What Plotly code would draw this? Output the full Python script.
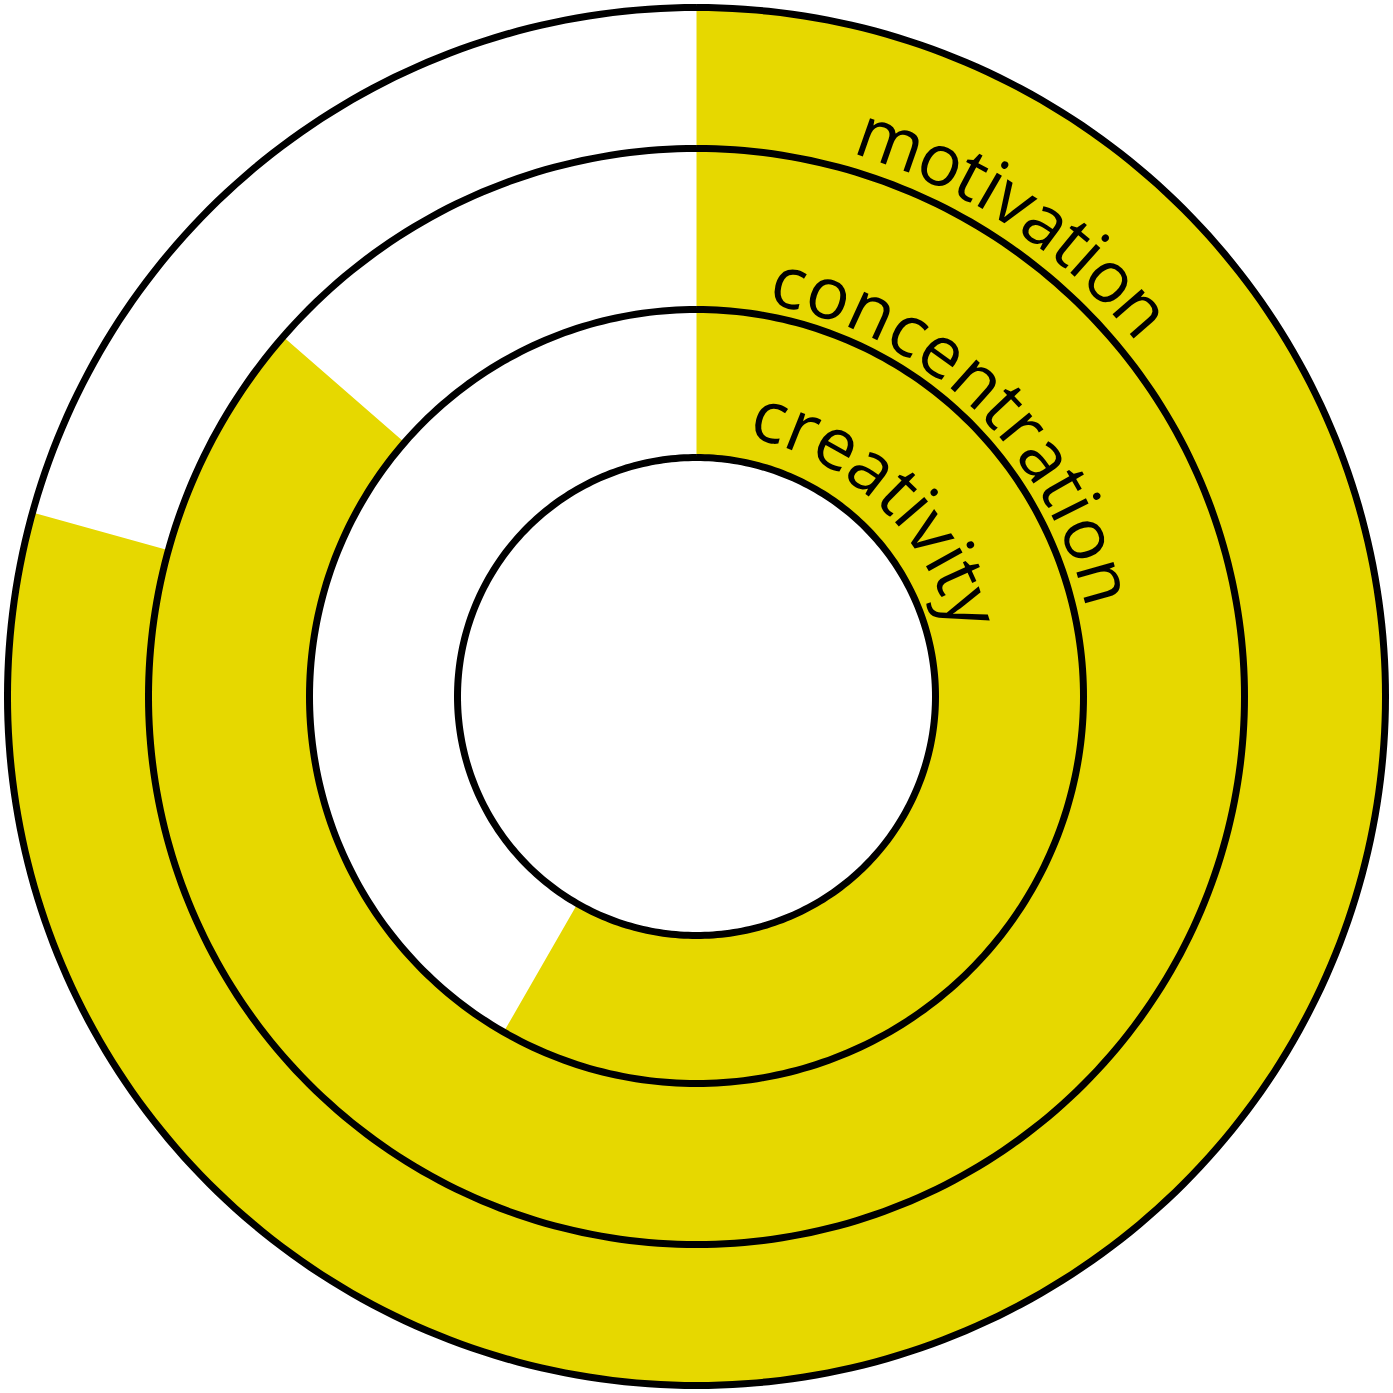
import math
import numpy as np
import plotly.graph_objects as go

# ---- data ----
categories = ["creativity", "concentration", "motivation"]
values = [58.3, 86.4, 79.3]          # percent of the ring that is filled

# ---- layout constants ----
W = H = 1393
R_MAX = 696.5                        # radial range so that 1 unit = 1 px
RING_EDGES = [239, 387, 548, 689]    # radii of the black circles
FILL = "rgb(230,216,0)"
FONT = "Open Sans"
FS = 72
# label placement: (start angle, end angle, baseline radius)
LABEL_POS = {
    "motivation": (16.0, 51.2, 562),
    "concentration": (10.2, 77.4, 396),
    "creativity": (11.1, 76.0, 261),
}
# approximate Open Sans advance widths (em)
ADV = {"a": .556, "c": .479, "e": .561, "i": .258, "m": .925, "n": .613,
       "o": .602, "r": .408, "t": .344, "v": .500, "y": .500}

fig = go.Figure()

for i, (cat, v) in enumerate(zip(categories, values)):
    span = v * 3.6
    fig.add_trace(go.Barpolar(
        r=[RING_EDGES[i + 1] - RING_EDGES[i]],
        base=[RING_EDGES[i]],
        theta=[span / 2],
        width=[span],
        marker=dict(color=FILL, line=dict(width=0)),
        name=cat, hoverinfo="skip",
    ))

theta_circle = np.arange(0, 361, 1)
for rad in RING_EDGES:
    fig.add_trace(go.Scatterpolar(
        r=[rad] * len(theta_circle), theta=theta_circle, mode="lines",
        line=dict(color="black", width=7), hoverinfo="skip", showlegend=False,
    ))

annotations = []
OFFSET = 0.388 * FS + 3
for cat in categories:
    a0, a1, rb = LABEL_POS[cat]
    widths = [ADV.get(ch, .55) for ch in cat]
    total = sum(widths)
    cum = 0.0
    for ch, w in zip(cat, widths):
        th = a0 + (cum + w / 2) / total * (a1 - a0)
        cum += w
        rc = rb + OFFSET
        x = 0.5 + rc * math.sin(math.radians(th)) / W
        y = 0.5 + rc * math.cos(math.radians(th)) / H
        annotations.append(dict(
            x=x, y=y, xref="paper", yref="paper", text=ch, showarrow=False,
            textangle=th, xanchor="center", yanchor="middle",
            font=dict(family=FONT, size=FS, color="black"), borderpad=0,
        ))

fig.update_layout(
    width=W, height=H,
    margin=dict(l=0, r=0, t=0, b=0),
    paper_bgcolor="white",
    showlegend=False,
    annotations=annotations,
    polar=dict(
        domain=dict(x=[0, 1], y=[0, 1]),
        bgcolor="white",
        barmode="overlay",
        radialaxis=dict(range=[0, R_MAX], visible=False),
        angularaxis=dict(rotation=90, direction="clockwise", visible=False),
    ),
)

fig.write_html(
    "out.html",
    config={"displayModeBar": False},
    post_script="document.body.style.margin='0';document.body.style.overflow='hidden';",
)
